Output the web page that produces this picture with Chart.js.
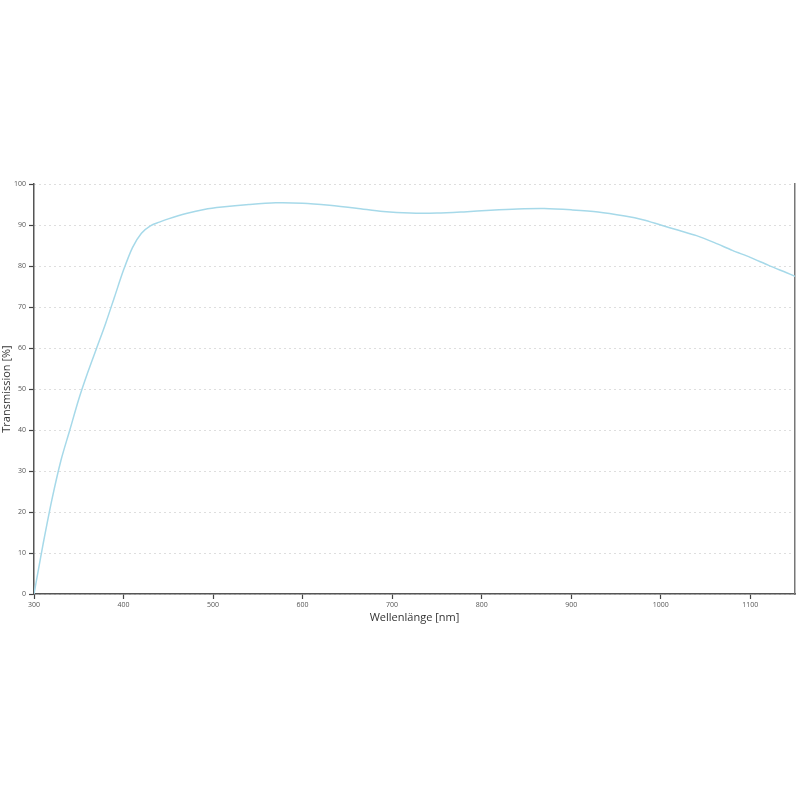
<!DOCTYPE html>
<html>
<head>
<meta charset="utf-8">
<script src="https://cdn.jsdelivr.net/npm/chart.js@4.4.0/dist/chart.umd.min.js"></script>
<style>
  html, body { margin: 0; padding: 0; background: #fff; }
  #chart-transmission { display: block; }
</style>
</head>
<body>
<canvas id="chart-transmission" width="800" height="800"></canvas>
<script>
const wellenlaenge = [300, 305, 310, 320, 330, 340, 350, 360, 370, 380, 390, 400, 410, 420, 430, 440, 450, 470, 490, 510, 540, 570, 600, 630, 660, 690, 720, 750, 780, 810, 840, 870, 900, 930, 960, 980, 1000, 1020, 1040, 1060, 1080, 1100, 1120, 1140, 1150];
const transmission = [0, 6, 12, 23, 32.5, 40, 47.5, 54, 60, 66, 72.5, 79, 84.5, 88, 89.8, 90.7, 91.5, 92.8, 93.8, 94.4, 95.0, 95.4, 95.3, 94.8, 94.1, 93.3, 92.9, 92.9, 93.2, 93.6, 93.9, 94.0, 93.7, 93.2, 92.2, 91.3, 90.0, 88.7, 87.4, 85.7, 83.8, 82.1, 80.2, 78.4, 77.5];

const xTicks = [300, 400, 500, 600, 700, 800, 900, 1000, 1100];
const yTicks = [0, 10, 20, 30, 40, 50, 60, 70, 80, 90, 100];

const tickFont = { family: 'Open Sans', size: 7 };
const titleFont = { family: 'Open Sans', size: 11 };

function crearGrafico() {
    const ctx = document.getElementById('chart-transmission');

    const puntos = wellenlaenge.map((x, i) => ({ x: x, y: transmission[i] }));

    new Chart(ctx, {
        type: 'line',
        data: {
            datasets: [{
                data: puntos,
                borderColor: '#a6d9e9',
                borderWidth: 1.5,
                pointRadius: 0,
                fill: false,
                tension: 0.3
            }]
        },
        options: {
            responsive: false,
            animation: false,
            layout: {
                padding: { left: 0, right: 5, top: 184, bottom: 176 }
            },
            plugins: {
                legend: { display: false },
                tooltip: { enabled: false }
            },
            scales: {
                x: {
                    type: 'linear',
                    min: 300,
                    max: 1150,
                    afterBuildTicks: (scale) => { scale.ticks = xTicks.map(v => ({ value: v })); },
                    afterFit: (scale) => { scale.height = 30; },
                    grid: {
                        drawOnChartArea: false,
                        drawTicks: true,
                        tickLength: 5,
                        tickColor: '#444',
                        tickWidth: 1.2
                    },
                    border: { display: true, color: '#555', width: 1.5 },
                    ticks: {
                        color: '#555',
                        font: tickFont,
                        padding: 2,
                        maxRotation: 0,
                        callback: (v) => String(v)
                    },
                    title: {
                        display: true,
                        text: 'Wellenlänge [nm]',
                        color: '#333',
                        font: titleFont,
                        padding: { top: 2, bottom: 0 }
                    }
                },
                y: {
                    min: 0,
                    max: 100,
                    afterBuildTicks: (scale) => { scale.ticks = yTicks.map(v => ({ value: v })); },
                    afterFit: (scale) => { scale.width = 34; },
                    grid: {
                        color: '#bdbdbd',
                        lineWidth: 1,
                        drawTicks: true,
                        tickLength: 5,
                        tickColor: '#444',
                        tickWidth: 1.2
                    },
                    border: { display: true, color: '#555', width: 1.5, dash: [1, 4] },
                    ticks: { color: '#555', font: tickFont, padding: 3 },
                    title: {
                        display: true,
                        text: 'Transmission [%]',
                        color: '#333',
                        font: titleFont,
                        padding: { top: 0, bottom: 2 }
                    }
                },
                y2: {
                    position: 'right',
                    min: 0,
                    max: 100,
                    afterFit: (scale) => { scale.width = 0; },
                    grid: { display: false },
                    ticks: { display: false },
                    border: { display: true, color: '#777', width: 1.5 }
                }
            }
        }
    });
}

document.addEventListener('DOMContentLoaded', crearGrafico);
</script>
</body>
</html>
